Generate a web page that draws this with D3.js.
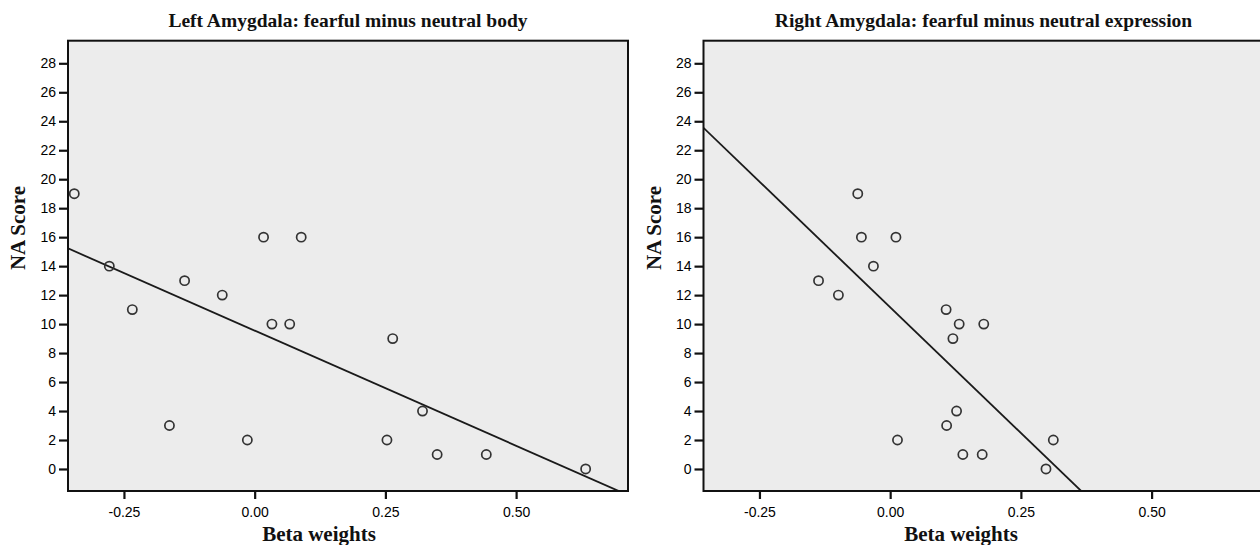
<!DOCTYPE html>
<html>
<head>
<meta charset="utf-8">
<script src="https://cdn.jsdelivr.net/npm/d3@7"></script>
<style>
    body { margin: 0; background: #fff; }
    svg { display: block; }
    .tick text { font-family: 'Liberation Sans', Arial, sans-serif; font-size: 14px; fill: #000; }
    .title { font-family: 'Liberation Serif', 'Times New Roman', serif; font-weight: bold; font-size: 19.5px; fill: #111; }
    .label { font-family: 'Liberation Serif', 'Times New Roman', serif; font-weight: bold; font-size: 21px; fill: #111; }
</style>
</head>
<body>
<div class="main"></div>
<script>
const w = 1260, h = 545;

// tick values
const xTicks = [-0.25, 0, 0.25, 0.5];
const yTicks = [0, 2, 4, 6, 8, 10, 12, 14, 16, 18, 20, 22, 24, 26, 28];

// left amygdala, fearful minus neutral body
const leftBeta = [-0.345, -0.278, -0.234, -0.134, -0.062, 0.017, 0.033, 0.067, 0.089, 0.264,
    -0.163, -0.014, 0.253, 0.321, 0.349, 0.443, 0.633];
const leftNA = [19, 14, 11, 13, 12, 16, 10, 10, 16, 9, 3, 2, 2, 4, 1, 1, 0];
const leftFit = [9.55, -15.9]; // intercept, slope

// right amygdala, fearful minus neutral expression
const rightBeta = [-0.062, -0.055, 0.011, -0.032, -0.137, -0.099, 0.107, 0.132, 0.120, 0.179,
    0.014, 0.108, 0.127, 0.139, 0.176, 0.298, 0.312];
const rightNA = [19, 16, 16, 14, 13, 12, 11, 10, 9, 10, 2, 3, 4, 1, 1, 0, 2];
const rightFit = [11.16, -34.7];

const panels = [
    { title: 'Left Amygdala: fearful minus neutral body', beta: leftBeta, na: leftNA, fit: leftFit, x0: 68, labelX: 319 },
    { title: 'Right Amygdala: fearful minus neutral expression', beta: rightBeta, na: rightNA, fit: rightFit, x0: 703.5, labelX: 961 }
];

const xDomain = [-0.357, 0.714], yDomain = [-1.52, 29.56];
const plotW = 560, plotTop = 40.7, plotBottom = 491;

const svg = d3.select('.main')
            .append('svg')
            .attr('width', w)
            .attr('height', h)

const y = d3.scaleLinear()
            .domain(yDomain)
            .range([plotBottom, plotTop])

// spss style labels use a plain hyphen
const fmt = d => d.toFixed(2).replace('\u2212', '-');

panels.forEach((p, k) => {
    const x = d3.scaleLinear()
                .domain(xDomain)
                .range([p.x0, p.x0 + plotW])

    const g = svg.append('g').attr('class', 'panel')
    const clipId = 'clip' + k

    g.append('clipPath')
        .attr('id', clipId)
        .append('rect')
        .attr('x', p.x0)
        .attr('y', plotTop)
        .attr('width', plotW)
        .attr('height', plotBottom - plotTop)

    g.append('rect')
        .attr('x', p.x0)
        .attr('y', plotTop)
        .attr('width', plotW)
        .attr('height', plotBottom - plotTop)
        .attr('fill', '#ececec')

    // regression line
    g.append('line')
        .attr('clip-path', `url(#${clipId})`)
        .attr('x1', x(xDomain[0]))
        .attr('y1', y(p.fit[0] + p.fit[1] * xDomain[0]))
        .attr('x2', x(xDomain[1]))
        .attr('y2', y(p.fit[0] + p.fit[1] * xDomain[1]))
        .attr('stroke', '#1a1a1a')
        .attr('stroke-width', 1.8)

    g.selectAll('circle')
        .data(p.beta.map((b, i) => [b, p.na[i]]))
        .enter()
        .append('circle')
        .attr('cx', d => x(d[0]))
        .attr('cy', d => y(d[1]))
        .attr('r', 4.6)
        .attr('fill', 'none')
        .attr('stroke', '#333')
        .attr('stroke-width', 1.7)

    // frame
    g.append('rect')
        .attr('x', p.x0)
        .attr('y', plotTop)
        .attr('width', plotW)
        .attr('height', plotBottom - plotTop)
        .attr('fill', 'none')
        .attr('stroke', '#111')
        .attr('stroke-width', 2)

    const yAxis = g.append('g')
                    .attr('transform', `translate(${p.x0}, 0)`)
                    .call(d3.axisLeft(y).tickValues(yTicks).tickSize(9).tickPadding(3))
    yAxis.select('.domain').remove()
    yAxis.selectAll('line').attr('stroke', '#111').attr('stroke-width', 2.2)

    const xAxis = g.append('g')
                    .attr('transform', `translate(0, ${plotBottom})`)
                    .call(d3.axisBottom(x).tickValues(xTicks).tickSize(8).tickPadding(8)
                        .tickFormat(fmt))
    xAxis.select('.domain').remove()
    xAxis.selectAll('line').attr('stroke', '#111').attr('stroke-width', 2.2)

    g.append('text')
        .attr('class', 'title')
        .attr('x', p.x0 + plotW / 2)
        .attr('y', 27)
        .attr('text-anchor', 'middle')
        .text(p.title)

    g.append('text')
        .attr('class', 'label')
        .attr('x', p.labelX)
        .attr('y', 541)
        .attr('text-anchor', 'middle')
        .text('Beta weights')

    g.append('text')
        .attr('class', 'label')
        .attr('transform', `translate(${p.x0 - 43}, 228) rotate(-90)`)
        .attr('text-anchor', 'middle')
        .text('NA Score')
})
</script>
</body>
</html>
